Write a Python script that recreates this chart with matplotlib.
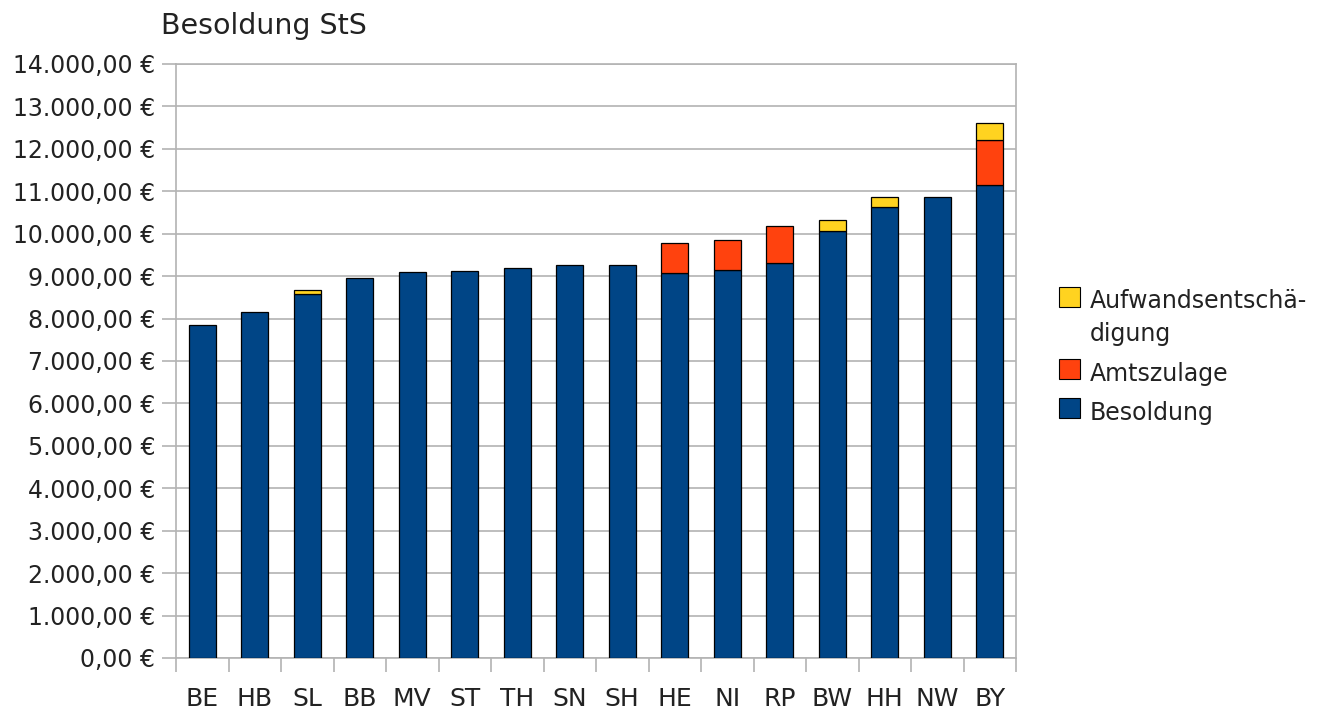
import numpy as np
import matplotlib.pyplot as plt
from matplotlib.patches import Rectangle
from matplotlib.ticker import FuncFormatter, MultipleLocator

plt.rcParams["font.family"] = ["DejaVu Sans"]

# -- data --
laender = ["BE", "HB", "SL", "BB", "MV", "ST", "TH", "SN",
           "SH", "HE", "NI", "RP", "BW", "HH", "NW", "BY"]
besoldung = [7850, 8155, 8585, 8960, 9095, 9120, 9190, 9255,
             9255, 9075, 9145, 9310, 10065, 10630, 10875, 11155]
amtszulage = [0, 0, 0, 0, 0, 0, 0, 0,
              0, 705, 715, 870, 0, 0, 0, 1060]
aufwand = [0, 0, 85, 0, 0, 0, 0, 0,
           0, 0, 0, 0, 260, 225, 0, 400]

c_bes = "#004586"
c_amt = "#ff420e"
c_auf = "#ffd320"
grey = "#b3b3b3"
txt = "#222222"

W, H = 1336, 711


def euro(v, pos):
    # German number format: 14.000,00 €
    s = "{:,.2f}".format(v)
    s = s.replace(",", "X").replace(".", ",").replace("X", ".")
    return s + " €"


fig = plt.figure(figsize=(W / 100, H / 100), dpi=100)
ax = fig.add_axes([176 / W, 53 / H, 840 / W, 594 / H])

x = np.arange(len(laender))
bes = np.array(besoldung)
amt = np.array(amtszulage)
auf = np.array(aufwand)
w = 0.52
kw = dict(width=w, edgecolor="black", linewidth=0.9, zorder=3)
ax.bar(x, bes, color=c_bes, **kw)
m = amt > 0
ax.bar(x[m], amt[m], bottom=bes[m], color=c_amt, **kw)
m = auf > 0
ax.bar(x[m], auf[m], bottom=(bes + amt)[m], color=c_auf, **kw)

ax.set_xlim(-0.5, len(laender) - 0.5)
ax.set_ylim(0, 14000)
ax.yaxis.set_major_locator(MultipleLocator(1000))
ax.yaxis.set_major_formatter(FuncFormatter(euro))
ax.yaxis.grid(True, color=grey, linewidth=1.2, zorder=0)
ax.set_axisbelow(True)

ax.set_xticks(x)
ax.set_xticklabels(laender)
ax.set_xticks(np.arange(-0.5, len(laender)), minor=True)
ax.tick_params(axis="x", which="major", length=0, pad=21,
               labelsize=18, labelcolor=txt)
ax.tick_params(axis="x", which="minor", length=10, width=1.2, color=grey)
ax.tick_params(axis="y", length=10, width=1.2, color=grey, pad=5,
               labelsize=17, labelcolor=txt)
for sp in ax.spines.values():
    sp.set_color(grey)
    sp.set_linewidth(1.2)

fig.text(161 / W, 1 - 33.5 / H, "Besoldung StS", fontsize=20.5,
         color=txt, va="baseline", ha="left")

# legend drawn by hand (square beside first line of wrapped label)
leg_items = [
    (c_auf, 287, ["Aufwandsentschä-", "digung"], [307.7, 341.5]),
    (c_amt, 359, ["Amtszulage"], [381]),
    (c_bes, 398, ["Besoldung"], [420]),
]
for col, top, lines, bases in leg_items:
    fig.add_artist(Rectangle((1059 / W, 1 - (top + 20) / H), 21 / W, 20 / H,
                             transform=fig.transFigure, facecolor=col,
                             edgecolor="black", linewidth=0.8))
    for line, yb in zip(lines, bases):
        fig.text(1090 / W, 1 - yb / H, line, fontsize=17, color=txt,
                 va="baseline", ha="left")

fig.savefig("out.png", dpi=100)
